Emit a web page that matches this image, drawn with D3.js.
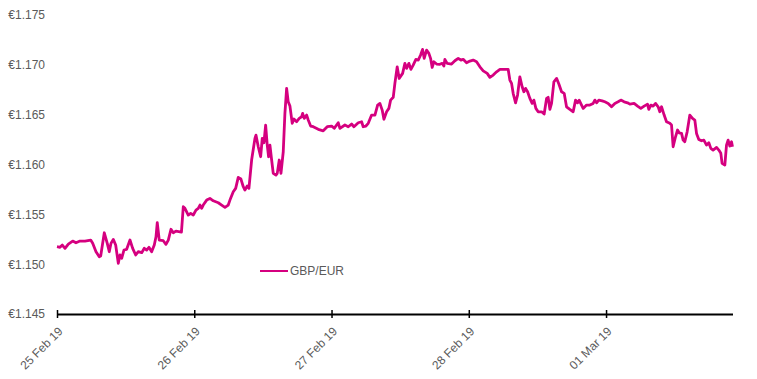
<!DOCTYPE html>
<html>
<head>
<meta charset="utf-8">
<script src="https://cdn.jsdelivr.net/npm/d3@7"></script>
<style>
  html, body { margin: 0; padding: 0; background: #fff; }
  svg { display: block; }
  text { font-family: "Liberation Sans", Arial, Helvetica, sans-serif; }
</style>
</head>
<body>
<svg id="chart" width="757" height="379"></svg>
<script>
// ---- Data ----
const seriesName = "GBP/EUR";
const startDate = "2019-02-25T00:00:00Z";
// hours elapsed since 25 Feb 2019 00:00
const hours = [
  0, 0.52, 0.93, 1.40, 1.98, 2.74, 3.32, 4.02, 4.89, 5.89,
  6.24, 6.82, 7.39, 7.64, 8.27, 8.79, 9.14, 9.44, 9.84, 10.26,
  10.72, 11.01, 11.31, 11.71, 12.18, 12.76, 13.23, 13.76, 14.21, 14.81,
  15.26, 15.68, 16.08, 16.55, 17.01, 17.31, 17.53, 17.88, 18.58, 19.05,
  19.46, 19.93, 20.33, 20.80, 21.76, 22.08, 22.37, 22.95, 23.37, 23.83,
  24.30, 24.70, 25.00, 25.29, 25.57, 26.17, 26.74, 27.32, 28.20, 28.79,
  29.37, 29.94, 30.24, 30.82, 31.24, 31.69, 32.16, 32.57, 32.86, 33.26,
  33.56, 34.03, 34.61, 34.79, 35.19, 35.61, 35.89, 36.18, 36.48, 36.76,
  37.00, 37.23, 37.53, 37.81, 38.28, 38.51, 38.86, 39.16, 39.56, 39.85,
  40.15, 40.43, 40.73, 41.13, 41.43, 41.90, 42.35, 42.77, 42.95, 43.23,
  43.65, 43.93, 44.35, 44.80, 45.68, 46.55, 47.25, 48.02, 48.47, 49.17,
  49.47, 50.34, 50.92, 51.51, 51.92, 52.67, 53.26, 53.54, 54.01, 54.42,
  55.01, 55.59, 56.06, 56.46, 56.86, 57.16, 57.63, 58.03, 58.33, 58.79,
  59.08, 59.48, 59.83, 60.43, 60.83, 61.13, 61.53, 61.88, 62.28, 62.75,
  63.16, 63.57, 63.92, 64.20, 64.62, 65.02, 65.32, 65.60, 65.90, 66.37,
  66.95, 67.35, 67.65, 67.82, 68.22, 68.99, 69.57, 70.15, 70.62, 71.02,
  71.61, 72.19, 72.77, 73.36, 73.94, 74.52, 75.22, 75.69, 76.27, 76.86,
  77.44, 78.31, 78.89, 79.18, 79.48, 79.76, 80.18, 80.53, 80.93, 81.33,
  81.63, 81.93, 82.28, 82.68, 83.08, 83.38, 83.73, 84.13, 84.73, 85.18,
  85.60, 85.88, 86.18, 86.47, 86.88, 87.35, 87.75, 88.22, 88.68, 89.09,
  89.67, 90.25, 90.67, 91.02, 91.30, 91.72, 92.00, 92.59, 93.17, 93.75,
  94.04, 94.34, 94.74, 95.32, 95.79, 96.37, 96.96, 97.54, 98.11, 98.59,
  99.16, 99.76, 100.16, 100.91, 101.51, 102.08, 102.66, 103.25, 103.48, 103.83,
  104.23, 104.65, 105.11, 105.40, 105.70, 106.16, 106.57, 107.15, 107.45, 107.73,
  108.15, 108.50, 108.78, 109.20, 109.48, 109.77, 110.18, 110.65, 111.12, 111.52,
  111.82, 112.22, 112.69, 113.10, 113.57, 113.97, 114.32, 114.72, 115.32, 115.72,
  116.07, 116.29, 116.77, 117.06, 117.34, 117.64, 117.94, 118.11
];
const rates = [
  1.15175, 1.15169, 1.15192, 1.15159, 1.15202, 1.15232, 1.15215, 1.15232, 1.15232, 1.15242,
  1.15209, 1.15125, 1.15075, 1.15082, 1.15315, 1.15209, 1.15125, 1.15209, 1.15249, 1.15192,
  1.15009, 1.15092, 1.15059, 1.15142, 1.15149, 1.15242, 1.15159, 1.15092, 1.15125, 1.15115,
  1.15159, 1.15142, 1.15169, 1.15125, 1.15192, 1.15275, 1.15416, 1.15242, 1.15235, 1.15199,
  1.15242, 1.15350, 1.15315, 1.15332, 1.15322, 1.15576, 1.15560, 1.15493, 1.15510, 1.15493,
  1.15543, 1.15560, 1.15593, 1.15560, 1.15593, 1.15643, 1.15660, 1.15636, 1.15616, 1.15593,
  1.15570, 1.15593, 1.15643, 1.15727, 1.15761, 1.15871, 1.15854, 1.15777, 1.15744, 1.15784,
  1.15761, 1.16045, 1.16262, 1.16295, 1.16178, 1.16078, 1.16262, 1.16218, 1.16396, 1.16195,
  1.16078, 1.16195, 1.16045, 1.15911, 1.15894, 1.15911, 1.16045, 1.15911, 1.16128, 1.16513,
  1.16764, 1.16629, 1.16586, 1.16413, 1.16456, 1.16429, 1.16463, 1.16479, 1.16513, 1.16463,
  1.16496, 1.16446, 1.16386, 1.16379, 1.16353, 1.16338, 1.16379, 1.16386, 1.16363, 1.16419,
  1.16363, 1.16396, 1.16379, 1.16406, 1.16379, 1.16419, 1.16429, 1.16379, 1.16386, 1.16413,
  1.16496, 1.16496, 1.16596, 1.16613, 1.16546, 1.16453, 1.16529, 1.16563, 1.16646, 1.16674,
  1.16814, 1.16980, 1.16864, 1.16914, 1.17015, 1.16964, 1.17015, 1.16954, 1.16997, 1.17055,
  1.17048, 1.17098, 1.17155, 1.17065, 1.17148, 1.17115, 1.17065, 1.16974, 1.17031, 1.17008,
  1.17005, 1.17015, 1.16987, 1.17055, 1.17015, 1.17008, 1.17041, 1.17065, 1.17048, 1.17055,
  1.17021, 1.17038, 1.17048, 1.17031, 1.16980, 1.16940, 1.16914, 1.16874, 1.16897, 1.16930,
  1.16954, 1.16954, 1.16954, 1.16847, 1.16814, 1.16714, 1.16619, 1.16697, 1.16880, 1.16780,
  1.16730, 1.16764, 1.16730, 1.16663, 1.16613, 1.16646, 1.16563, 1.16529, 1.16529, 1.16506,
  1.16663, 1.16674, 1.16553, 1.16613, 1.16830, 1.16864, 1.16807, 1.16730, 1.16714, 1.16579,
  1.16553, 1.16529, 1.16646, 1.16619, 1.16646, 1.16596, 1.16563, 1.16596, 1.16596, 1.16613,
  1.16646, 1.16619, 1.16646, 1.16639, 1.16629, 1.16613, 1.16579, 1.16613, 1.16629, 1.16646,
  1.16629, 1.16619, 1.16606, 1.16613, 1.16586, 1.16563, 1.16586, 1.16606, 1.16553, 1.16596,
  1.16586, 1.16613, 1.16579, 1.16529, 1.16579, 1.16496, 1.16429, 1.16413, 1.16396, 1.16178,
  1.16278, 1.16346, 1.16318, 1.16312, 1.16245, 1.16228, 1.16328, 1.16496, 1.16463, 1.16446,
  1.16312, 1.16252, 1.16238, 1.16245, 1.16195, 1.16218, 1.16162, 1.16145, 1.16172, 1.16145,
  1.16112, 1.16012, 1.15994, 1.16195, 1.16245, 1.16185, 1.16228, 1.16178
];
const yTicks = [1.145, 1.150, 1.155, 1.160, 1.165, 1.170, 1.175];
const yDomain = [1.145, 1.175];

// ---- Build ----
(function () {
  const t0 = new Date(startDate).getTime();
  const data = hours.map((h, i) => ({ date: new Date(t0 + h * 3600000), value: rates[i] }));

  const svg = d3.select("#chart");
  const mLeft = 57, mRight = 732.5, mTop = 15, mBottom = 314;

  const x = d3.scaleUtc()
    .domain([new Date(t0), data[data.length - 1].date])
    .range([mLeft, mRight]);
  const y = d3.scaleLinear().domain(yDomain).range([mBottom, mTop]);

  // Y labels (no axis line)
  const yAxis = d3.axisLeft(y)
    .tickValues(yTicks)
    .tickSize(0)
    .tickPadding(0)
    .tickFormat(d => "€" + d3.format(".3f")(d));
  const yg = svg.append("g").attr("transform", "translate(45,0)").call(yAxis);
  yg.select(".domain").remove();
  yg.selectAll("text")
    .attr("fill", "#5a5a5a")
    .style("font-size", "12px")
    .style("font-family", "'Liberation Sans', Arial, sans-serif");

  // X axis
  const xAxis = d3.axisBottom(x)
    .ticks(d3.utcDay.every(1))
    .tickSize(4)
    .tickSizeOuter(0)
    .tickFormat(d3.utcFormat("%d %b %y"));
  const xg = svg.append("g").attr("transform", `translate(0,${mBottom})`).call(xAxis);
  xg.select(".domain").attr("stroke", "#000").attr("stroke-width", 2);
  xg.selectAll(".tick line").attr("stroke", "#000").attr("stroke-width", 1.5).attr("y1", -4);
  xg.selectAll(".tick text")
    .attr("fill", "#5a5a5a")
    .style("font-size", "12px")
    .style("font-family", "'Liberation Sans', Arial, sans-serif")
    .attr("text-anchor", "end")
    .attr("x", 0).attr("y", 0).attr("dy", "0.35em")
    .attr("transform", "translate(3,15) rotate(-45)");

  // Line
  const line = d3.line().x(d => x(d.date)).y(d => y(d.value));
  svg.append("path")
    .datum(data)
    .attr("fill", "none")
    .attr("stroke", "#d5007f")
    .attr("stroke-width", 2.8)
    .attr("stroke-linejoin", "round")
    .attr("d", line);

  // Legend
  const lg = svg.append("g").attr("transform", "translate(260,271)");
  lg.append("line").attr("x1", 0).attr("x2", 28).attr("y1", 0).attr("y2", 0)
    .attr("stroke", "#d5007f").attr("stroke-width", 2);
  lg.append("text").attr("x", 30).attr("y", 0).attr("dy", "0.35em")
    .attr("fill", "#5a5a5a").style("font-size", "12px").text(seriesName);
})();
</script>
</body>
</html>
